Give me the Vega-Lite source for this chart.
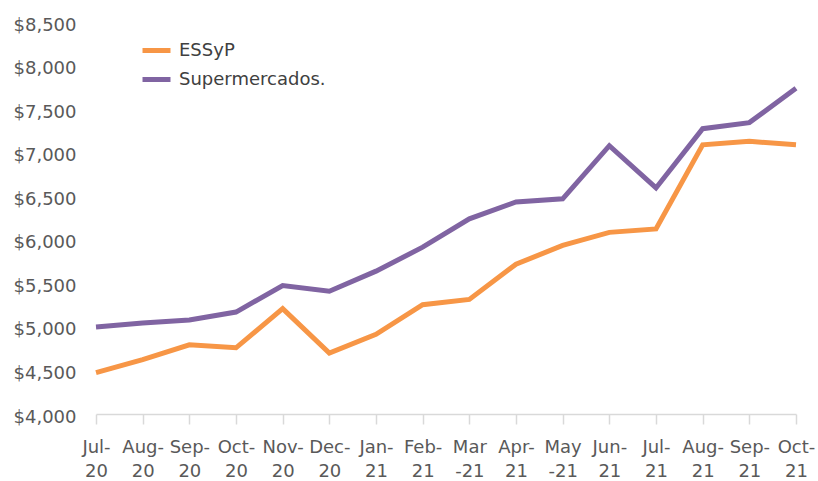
{
  "$schema": "https://vega.github.io/schema/vega-lite/v6.json",
  "width": 700,
  "height": 392,
  "autosize": {"type": "none"},
  "padding": {"left": 96, "top": 22, "right": 22, "bottom": 67},
  "background": "white",
  "config": {
    "view": {"stroke": null},
    "font": "DejaVu Sans",
    "axis": {"labelFont": "DejaVu Sans", "labelFontSize": 18, "labelColor": "#595959", "grid": false, "title": null},
    "legend": {"labelFont": "DejaVu Sans", "labelFontSize": 18, "labelColor": "#404040"}
  },
  "data": {
    "values": [
      {"month": "Jul-20", "series": "ESSyP", "value": 4475},
      {"month": "Aug-20", "series": "ESSyP", "value": 4625},
      {"month": "Sep-20", "series": "ESSyP", "value": 4795},
      {"month": "Oct-20", "series": "ESSyP", "value": 4760},
      {"month": "Nov-20", "series": "ESSyP", "value": 5210},
      {"month": "Dec-20", "series": "ESSyP", "value": 4700},
      {"month": "Jan-21", "series": "ESSyP", "value": 4915},
      {"month": "Feb-21", "series": "ESSyP", "value": 5255},
      {"month": "Mar-21", "series": "ESSyP", "value": 5315},
      {"month": "Apr-21", "series": "ESSyP", "value": 5720},
      {"month": "May-21", "series": "ESSyP", "value": 5935},
      {"month": "Jun-21", "series": "ESSyP", "value": 6085},
      {"month": "Jul-21", "series": "ESSyP", "value": 6125},
      {"month": "Aug-21", "series": "ESSyP", "value": 7090},
      {"month": "Sep-21", "series": "ESSyP", "value": 7130},
      {"month": "Oct-21", "series": "ESSyP", "value": 7090},
      {"month": "Jul-20", "series": "Supermercados.", "value": 5000},
      {"month": "Aug-20", "series": "Supermercados.", "value": 5045},
      {"month": "Sep-20", "series": "Supermercados.", "value": 5080},
      {"month": "Oct-20", "series": "Supermercados.", "value": 5170},
      {"month": "Nov-20", "series": "Supermercados.", "value": 5475},
      {"month": "Dec-20", "series": "Supermercados.", "value": 5410},
      {"month": "Jan-21", "series": "Supermercados.", "value": 5640},
      {"month": "Feb-21", "series": "Supermercados.", "value": 5915},
      {"month": "Mar-21", "series": "Supermercados.", "value": 6240},
      {"month": "Apr-21", "series": "Supermercados.", "value": 6435},
      {"month": "May-21", "series": "Supermercados.", "value": 6470},
      {"month": "Jun-21", "series": "Supermercados.", "value": 7080},
      {"month": "Jul-21", "series": "Supermercados.", "value": 6595},
      {"month": "Aug-21", "series": "Supermercados.", "value": 7275},
      {"month": "Sep-21", "series": "Supermercados.", "value": 7345},
      {"month": "Oct-21", "series": "Supermercados.", "value": 7740}
    ]
  },
  "mark": {"type": "line", "strokeWidth": 5, "strokeJoin": "miter", "strokeCap": "butt"},
  "encoding": {
    "x": {
      "field": "month",
      "type": "ordinal",
      "sort": null,
      "scale": {"type": "point", "padding": 0},
      "axis": {
        "labelAngle": 0,
        "labelOverlap": false,
        "labelBound": false,
        "labelFlush": false,
        "domainColor": "#d9d9d9",
        "domainWidth": 1.5,
        "tickColor": "#d9d9d9",
        "tickWidth": 1.5,
        "tickSize": 10,
        "labelPadding": 14,
        "labelLineHeight": 24,
        "labelExpr": "indexof(['Mar-21','May-21'], datum.label) >= 0 ? [slice(datum.label,0,3), slice(datum.label,3)] : [slice(datum.label,0,4), slice(datum.label,4)]"
      }
    },
    "y": {
      "field": "value",
      "type": "quantitative",
      "scale": {"domain": [4000, 8500], "nice": false, "zero": false},
      "axis": {
        "values": [4000, 4500, 5000, 5500, 6000, 6500, 7000, 7500, 8000, 8500],
        "format": "$,.0f",
        "domain": false,
        "ticks": false,
        "labelPadding": 20,
        "labelOffset": 3
      }
    },
    "color": {
      "field": "series",
      "type": "nominal",
      "scale": {"domain": ["ESSyP", "Supermercados."], "range": ["#F79646", "#8064A2"]},
      "legend": {
        "title": null,
        "orient": "none",
        "legendX": 44,
        "legendY": 12,
        "symbolType": "stroke",
        "symbolSize": 784,
        "symbolStrokeWidth": 5,
        "labelOffset": 6,
        "rowPadding": 2
      }
    }
  }
}
